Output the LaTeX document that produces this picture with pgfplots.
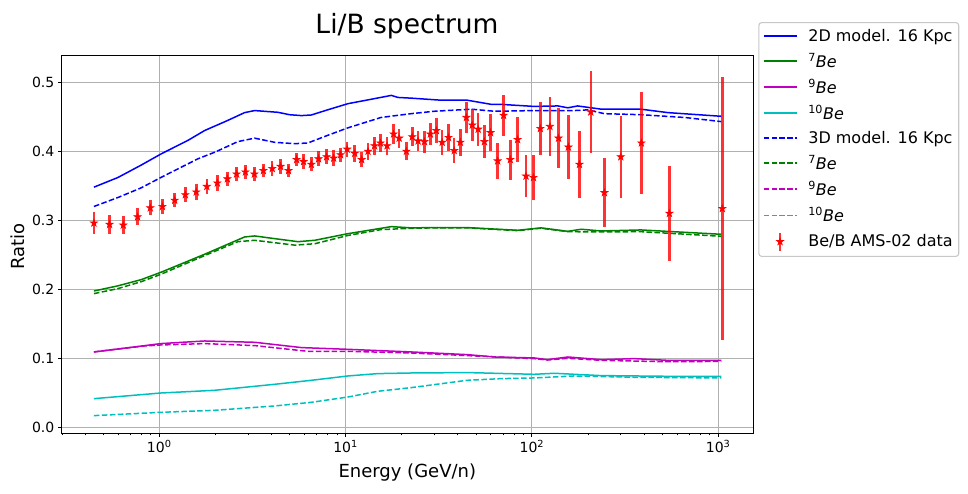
\documentclass[border=0pt]{standalone}
\usepackage{fontspec}
\setmainfont{DejaVu Sans}
\usepackage{pgfplots}
\pgfplotsset{compat=1.18}

\definecolor{mgreen}{rgb}{0,0.5,0}
\definecolor{mmag}{rgb}{0.75,0,0.75}
\definecolor{mcyan}{rgb}{0,0.75,0.75}
\definecolor{gridgray}{HTML}{B0B0B0}
\definecolor{legedge}{HTML}{C8C8C8}

\pgfdeclareplotmark{fstar}{%
  \pgfpathmoveto{\pgfpointpolar{90}{\pgfplotmarksize}}%
  \pgfpathlineto{\pgfpointpolar{126}{0.382\pgfplotmarksize}}%
  \pgfpathlineto{\pgfpointpolar{162}{\pgfplotmarksize}}%
  \pgfpathlineto{\pgfpointpolar{198}{0.382\pgfplotmarksize}}%
  \pgfpathlineto{\pgfpointpolar{234}{\pgfplotmarksize}}%
  \pgfpathlineto{\pgfpointpolar{270}{0.382\pgfplotmarksize}}%
  \pgfpathlineto{\pgfpointpolar{306}{\pgfplotmarksize}}%
  \pgfpathlineto{\pgfpointpolar{342}{0.382\pgfplotmarksize}}%
  \pgfpathlineto{\pgfpointpolar{18}{\pgfplotmarksize}}%
  \pgfpathlineto{\pgfpointpolar{54}{0.382\pgfplotmarksize}}%
  \pgfpathclose
  \pgfusepathqfillstroke
}

\pgfplotstableread{
x y e
0.446 0.296 0.016
0.541 0.294 0.014
0.641 0.293 0.013
0.765 0.305 0.0125
0.895 0.318 0.011
1.04 0.320 0.011
1.21 0.329 0.010
1.38 0.337 0.011
1.58 0.341 0.011
1.80 0.349 0.011
2.05 0.354 0.011
2.32 0.360 0.010
2.60 0.367 0.010
2.90 0.370 0.010
3.24 0.367 0.010
3.62 0.372 0.010
4.04 0.375 0.011
4.48 0.378 0.011
4.94 0.372 0.010
5.46 0.388 0.010
5.95 0.385 0.011
6.55 0.381 0.010
7.16 0.389 0.011
7.91 0.392 0.011
8.63 0.390 0.012
9.40 0.395 0.010
10.2 0.403 0.011
11.2 0.397 0.012
12.2 0.388 0.011
13.2 0.400 0.012
14.3 0.408 0.013
15.4 0.412 0.013
16.7 0.408 0.013
18.1 0.425 0.014
19.4 0.419 0.014
21.2 0.400 0.013
22.8 0.421 0.014
24.5 0.415 0.015
26.5 0.414 0.016
28.5 0.425 0.016
30.7 0.430 0.018
33.0 0.413 0.018
35.7 0.420 0.019
38.3 0.401 0.018
41.3 0.413 0.020
44.5 0.449 0.022
47.9 0.438 0.023
51.5 0.432 0.024
55.6 0.414 0.024
60.0 0.427 0.027
65.5 0.386 0.026
70.5 0.452 0.030
76.6 0.388 0.029
83.8 0.417 0.032
93.0 0.364 0.030
102 0.362 0.032
111 0.433 0.039
125 0.436 0.043
139 0.419 0.043
157 0.406 0.046
180 0.381 0.048
207 0.457 0.059
245 0.340 0.050
300 0.392 0.059
387 0.412 0.074
547 0.310 0.069
1052 0.317 0.190
}\amsdata

\begin{document}
\begin{tikzpicture}
\useasboundingbox (-61.3pt,-60.7pt) rectangle (906.7pt,433.3pt);
\begin{semilogxaxis}[
  scale only axis, width=692pt, height=378pt,
  xmin=0.298, xmax=1543, ymin=-0.0087, ymax=0.5391,
  axis line style={line width=0.8pt, black},
  tick pos=left, tick align=outside,
  major tick length=3.5pt, minor tick length=2pt,
  every tick/.style={black, line width=0.8pt},
  minor tick style={line width=0.6pt},
  xtick={1,10,100,1000},
  xticklabels={10\textsuperscript{0},10\textsuperscript{1},10\textsuperscript{2},10\textsuperscript{3}},
  minor xtick={0.3,0.4,0.5,0.6,0.7,0.8,0.9,2,3,4,5,6,7,8,9,20,30,40,50,60,70,80,90,200,300,400,500,600,700,800,900},
  ytick={0,0.1,0.2,0.3,0.4,0.5},
  minor y tick num=0,
  yticklabel style={/pgf/number format/.cd, fixed, fixed zerofill, precision=1, assume math mode=true},
  tick label style={font=\fontsize{14}{16.8}\selectfont},
  grid=major,
  major grid style={gridgray, line width=0.8pt},
  title={Li/B spectrum},
  title style={at={(axis description cs:0.4996,1)}, anchor=base, yshift=15.3pt, font=\fontsize{26.5}{31}\selectfont},
  xlabel={Energy (GeV/n)},
  xlabel style={at={(axis description cs:0.5,0)}, anchor=base, yshift=-44.2pt, font=\fontsize{18}{21.6}\selectfont},
  ylabel={Ratio},
  ylabel style={at={(axis description cs:-0.0535,0.495)}, anchor=base, rotate=0, font=\fontsize{18}{21.6}\selectfont},
  legend cell align=left,
  legend image code/.code={\draw[#1] (0pt,0pt) -- (33pt,0pt);},
  legend style={at={(axis description cs:1.0072,1.088)}, anchor=north west,
    draw=legedge, line width=1.1pt, rounded corners=3pt, fill=white,
    font=\fontsize{16}{19.2}\selectfont,
    inner xsep=4pt, inner ysep=4.5pt, row sep=6.1pt,
    /tikz/every odd column/.append style={column sep=9pt},
    nodes={inner sep=2pt}},
]
% 2D model
\addplot[blue, line width=1.5pt] coordinates {
(0.446,0.348) (0.60,0.362) (0.80,0.380) (1.02,0.396) (1.43,0.416) (1.75,0.430)
(2.3,0.444) (2.87,0.456) (3.25,0.459) (4.33,0.4565) (5.0,0.453) (5.8,0.4517)
(6.55,0.4526) (8.0,0.460) (10.3,0.469) (13.5,0.475) (17.6,0.481) (19.1,0.478)
(22.5,0.477) (32.6,0.474) (45,0.474) (60.5,0.468) (68,0.468) (103,0.465)
(138,0.4657) (156,0.463) (176,0.4657) (236,0.461) (385,0.461) (538,0.456) (1040,0.4507)};
\addlegendentry{2D model. 16 Kpc}
\addplot[mgreen, line width=1.5pt] coordinates {
(0.446,0.1975) (0.6,0.205) (0.8,0.214) (1.02,0.2246) (1.75,0.2507) (2.87,0.2758)
(3.25,0.2773) (4.16,0.2734) (5.55,0.269) (6.83,0.271) (10.3,0.2806) (17.6,0.2908)
(22.5,0.289) (30,0.2894) (45,0.2894) (84,0.2855) (112,0.289) (156,0.284) (184,0.287)
(236,0.2845) (385,0.286) (1040,0.2797)};
\addlegendentry{\textsuperscript{7}\textit{Be}}
\addplot[mmag, line width=1.5pt] coordinates {
(0.446,0.1092) (1.02,0.1213) (1.75,0.1251) (3.25,0.1232) (5.8,0.1155) (10.3,0.113)
(22.5,0.1092) (45,0.1053) (63,0.1019) (103,0.1005) (121,0.098) (156,0.1019)
(236,0.098) (355,0.0995) (538,0.097) (1040,0.097)};
\addlegendentry{\textsuperscript{9}\textit{Be}}
\addplot[mcyan, line width=1.5pt] coordinates {
(0.446,0.0415) (1.02,0.0497) (1.98,0.0536) (4.16,0.0623) (6.55,0.0681) (10.3,0.0744)
(14.9,0.0778) (22.5,0.0787) (45,0.0793) (103,0.0768) (132,0.0783) (169,0.0768)
(236,0.0749) (538,0.0739) (1040,0.0739)};
\addlegendentry{\textsuperscript{10}\textit{Be}}
% 3D model
\addplot[blue, line width=1.5pt, dash pattern=on 5.55pt off 2.4pt] coordinates {
(0.446,0.320) (0.60,0.333) (0.80,0.347) (1.02,0.362) (1.61,0.389) (2.0,0.399)
(2.64,0.414) (3.25,0.419) (4.16,0.413) (5.33,0.411) (6.27,0.412) (8.0,0.423)
(10.3,0.434) (15.5,0.449) (22.5,0.4545) (30,0.458) (47.3,0.461) (63,0.458)
(103,0.459) (169,0.459) (199,0.460) (245,0.4545) (385,0.453) (660,0.449) (1040,0.443)};
\addlegendentry{3D model. 16 Kpc}
\addplot[mgreen, line width=1.5pt, dash pattern=on 5.55pt off 2.4pt] coordinates {
(0.446,0.1937) (0.6,0.201) (0.8,0.211) (1.02,0.2217) (1.75,0.2488) (2.64,0.269)
(3.25,0.271) (5.33,0.264) (6.83,0.266) (10.3,0.278) (15.5,0.2865) (22.5,0.2884)
(30,0.289) (45,0.289) (84,0.285) (112,0.2885) (156,0.2835) (236,0.2831) (385,0.2835) (1040,0.2768)};
\addlegendentry{\textsuperscript{7}\textit{Be}}
\addplot[mmag, line width=1.5pt, dash pattern=on 5.55pt off 2.4pt] coordinates {
(0.446,0.1092) (0.83,0.1178) (1.02,0.1193) (1.75,0.1213) (3.25,0.1184) (6.27,0.1101)
(10.3,0.1101) (22.5,0.1077) (45,0.1039) (103,0.0995) (121,0.0975) (156,0.1000)
(236,0.097) (538,0.095) (1040,0.0955)};
\addlegendentry{\textsuperscript{9}\textit{Be}}
\addplot[mcyan, line width=1.5pt, dash pattern=on 5.55pt off 2.4pt] coordinates {
(0.446,0.0169) (1.02,0.0217) (1.98,0.0246) (4.16,0.0309) (6.55,0.0362) (10.3,0.0439)
(14.9,0.0522) (22.5,0.0575) (30,0.0619) (45,0.0681) (68,0.0705) (103,0.0715)
(169,0.0744) (355,0.0725) (1040,0.0715)};
\addlegendentry{\textsuperscript{10}\textit{Be}}
% data
\addplot[only marks, red, mark=fstar, mark size=3.8pt, mark options={fill=red, draw=red, line width=0.6pt},
  legend image code/.code={%
    \draw[red, opacity=0.8, line width=2.5pt] (16.5pt,-9pt) -- (16.5pt,9pt);
    \draw[red, fill=red, line width=0.6pt] plot[only marks, mark=fstar, mark size=3.8pt] coordinates {(16.5pt,0pt)};},
  error bars/.cd, y dir=both, y explicit, error mark=none,
  error bar style={line width=2.5pt, red, opacity=0.8}]
  table[x=x, y=y, y error=e] {\amsdata};
\addlegendentry{Be/B AMS-02 data}
\end{semilogxaxis}
\end{tikzpicture}
\end{document}
